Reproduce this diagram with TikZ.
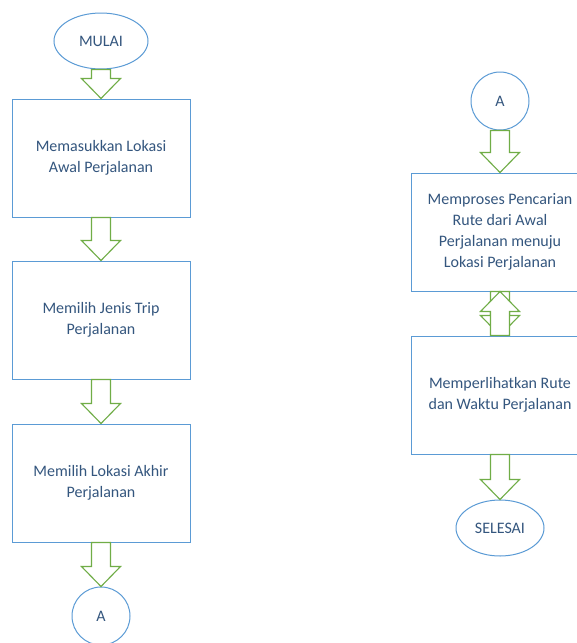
\documentclass[tikz,border=0pt]{standalone}
\usepackage{fontspec}
\setmainfont{Carlito}
\usetikzlibrary{shapes.geometric,calc}
\definecolor{boxblue}{HTML}{5B9BD5}
\definecolor{arrowgreen}{HTML}{70AD47}
\definecolor{textblue}{HTML}{34567E}
\newcommand{\blkarrow}[3][white]{%
\draw[greenarrow,fill=#1] ($(#2)+(-9.5,0)$) -- ($(#2)+(9.5,0)$) -- ($(#3)+(9.5,-20)$)
  -- ($(#3)+(19.5,-20)$) -- (#3) -- ($(#3)+(-19.5,-20)$) -- ($(#3)+(-9.5,-20)$) -- cycle;}
\newcommand{\blkarrowup}[2]{%
\draw[greenarrow,fill=white] ($(#2)+(-9.5,0)$) -- ($(#2)+(9.5,0)$) -- ($(#1)+(9.5,20)$)
  -- ($(#1)+(19.5,20)$) -- (#1) -- ($(#1)+(-19.5,20)$) -- ($(#1)+(-9.5,20)$) -- cycle;}
\begin{document}
\begin{tikzpicture}[x=0.75pt,y=-0.75pt,
  every node/.style={text=textblue,font=\fontsize{12}{15.8}\selectfont,align=center},
  procbox/.style={draw=boxblue,line width=0.75pt,minimum width=133.5pt,minimum height=88.5pt,inner sep=0pt},
  termnode/.style={draw=boxblue,line width=0.75pt,ellipse,inner sep=0pt},
  connnode/.style={draw=boxblue,line width=0.75pt,circle,minimum size=43.5pt,inner sep=0pt},
  greenarrow/.style={draw=arrowgreen,line width=0.85pt,line join=miter}]
\clip (0,0) rectangle (577,643);
\fill[white] (0,0) rectangle (577,643);

\node[termnode,minimum width=70.5pt,minimum height=42pt] (mulai) at (101,41) {MULAI};
\node[procbox] (lokasiawal) at (101,158) {Memasukkan Lokasi\\Awal Perjalanan};
\node[procbox] (jenistrip) at (101,320) {Memilih Jenis Trip\\Perjalanan};
\node[procbox] (lokasiakhir) at (101,483) {Memilih Lokasi Akhir\\Perjalanan};
\node[connnode] (konektorkiri) at (101,616) {A};

\node[connnode] (konektorkanan) at (500,101) {A};
\node[procbox] (pencarian) at (500,232) {Memproses Pencarian\\Rute dari Awal\\Perjalanan menuju\\Lokasi Perjalanan};
\node[procbox] (hasil) at (500,395) {Memperlihatkan Rute\\dan Waktu Perjalanan};
\node[termnode,minimum width=66pt,minimum height=42pt] (selesai) at (500,528) {SELESAI};

\blkarrow{mulai.south}{lokasiawal.north}
\blkarrow{lokasiawal.south}{jenistrip.north}
\blkarrow{jenistrip.south}{lokasiakhir.north}
\blkarrow{lokasiakhir.south}{konektorkiri.north}
\blkarrow{konektorkanan.south}{pencarian.north}
\blkarrow{pencarian.south}{hasil.north}
\blkarrowup{pencarian.south}{hasil.north}
\blkarrow{hasil.south}{selesai.north}
\end{tikzpicture}
\end{document}
